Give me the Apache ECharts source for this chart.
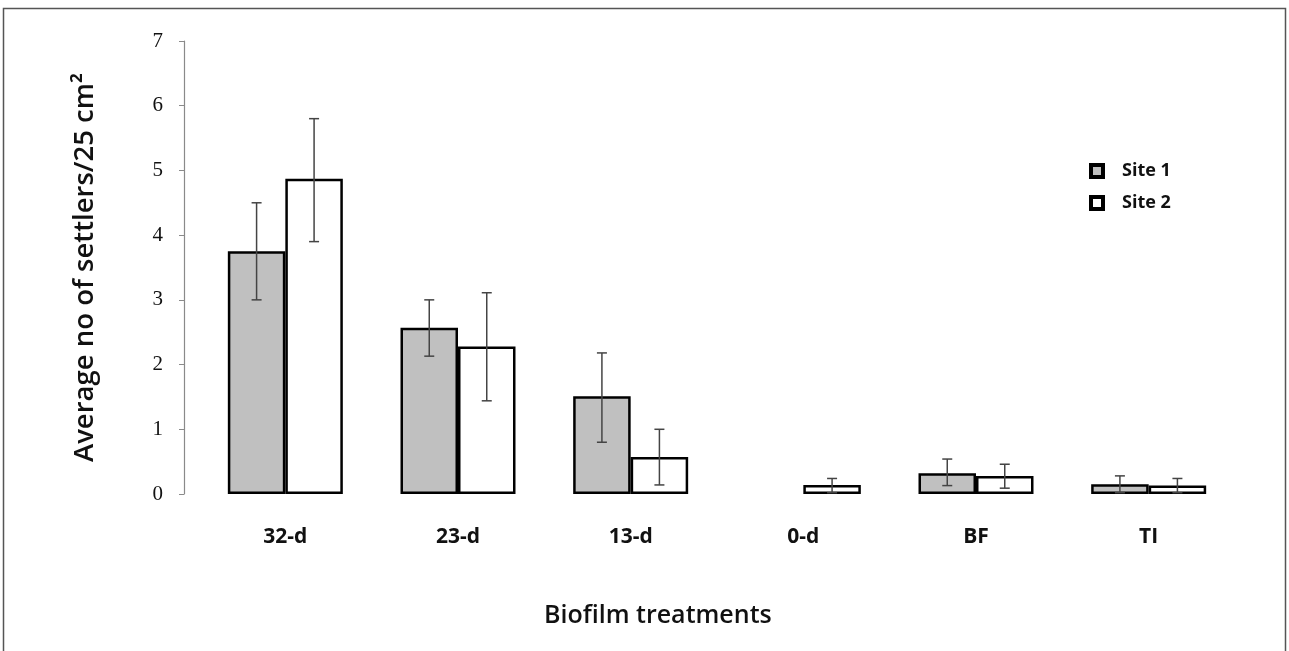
<!DOCTYPE html>
<html>
<head>
<meta charset="utf-8">
<style>
  html, body { margin: 0; padding: 0; background: #fff; }
  #chart { width: 1289px; height: 651px; }
</style>
<script src="https://cdn.jsdelivr.net/npm/echarts@6/dist/echarts.min.js"></script>
</head>
<body>
<div id="chart"></div>
<script>
var categories = ['32-d', '23-d', '13-d', '0-d', 'BF', 'TI'];
var yTicks = [0, 1, 2, 3, 4, 5, 6, 7];

// mean values ('-' = no bar)
var site1 = [3.75, 2.57, 1.51, '-', 0.32, 0.15];
var site2 = [4.87, 2.28, 0.57, 0.14, 0.28, 0.13];

// error bar ends [low, high]
var site1Low  = [3.00, 2.13, 0.80, null, 0.13, 0.02];
var site1High = [4.50, 3.00, 2.18, null, 0.54, 0.28];
var site2Low  = [3.90, 1.44, 0.14, 0.02, 0.09, 0.02];
var site2High = [5.80, 3.11, 1.00, 0.24, 0.46, 0.24];

var gapPct = 0.334;

function errData(low, high) {
    var out = [];
    for (var i = 0; i < low.length; i++) {
        if (low[i] == null) continue;
        out.push([i, low[i], high[i]]);
    }
    return out;
}

function errRenderer(side) {
    return function (params, api) {
        var band = api.size([1, 0])[0];
        var bw = band * (1 - gapPct) / 2;
        var lo = api.coord([api.value(0), api.value(1)]);
        var hi = api.coord([api.value(0), api.value(2)]);
        var x = lo[0] + side * bw / 2;
        var cap = 5;
        var style = { stroke: '#444', lineWidth: 1.5 };
        return {
            type: 'group',
            children: [
                { type: 'line', shape: { x1: x, y1: lo[1], x2: x, y2: hi[1] }, style: style },
                { type: 'line', shape: { x1: x - cap, y1: hi[1], x2: x + cap, y2: hi[1] }, style: style },
                { type: 'line', shape: { x1: x - cap, y1: lo[1], x2: x + cap, y2: lo[1] }, style: style }
            ]
        };
    };
}

var barStyle = function (fill) {
    return { color: fill, borderColor: '#000', borderWidth: 2.5 };
};

var opts = {
    animation: false,
    backgroundColor: '#fff',
    grid: { left: 199, right: 54, top: 41, bottom: 157, containLabel: false },
    legend: {
        orient: 'vertical',
        left: 1084,
        top: 157,
        itemWidth: 12,
        itemHeight: 12,
        itemGap: 14,
        icon: 'rect',
        data: ['Site 1', 'Site 2'],
        itemStyle: { borderWidth: 4, borderColor: '#000' },
        textStyle: { fontFamily: 'Open Sans', fontWeight: 'bold', fontSize: 18, color: '#111', padding: [0, 0, 0, 14] }
    },
    xAxis: {
        type: 'category',
        data: categories,
        axisLine: { show: false },
        axisTick: { show: false },
        axisLabel: { margin: 33, fontFamily: 'Open Sans', fontWeight: 'bold', fontSize: 21, color: '#111' }
    },
    yAxis: {
        type: 'value',
        min: yTicks[0],
        max: yTicks[yTicks.length - 1],
        interval: 1,
        offset: 15,
        axisLine: { show: true, lineStyle: { color: '#8a8a8a', width: 1.2 } },
        axisTick: { show: true, inside: false, length: 5, lineStyle: { color: '#8a8a8a' } },
        splitLine: { show: false },
        axisLabel: { margin: 21, fontFamily: 'Liberation Serif', fontSize: 21, color: '#111' },
        name: 'Average no of settlers/25 cm²',
        nameLocation: 'middle',
        nameGap: 85,
        nameTextStyle: { fontFamily: 'Open Sans', fontWeight: 600, fontSize: 27.5, color: '#111' }
    },
    graphic: [
        {
            type: 'rect',
            shape: { x: 3.5, y: 8.5, width: 1282, height: 700 },
            style: { fill: 'none', stroke: '#555', lineWidth: 1.5 },
            silent: true
        },
        {
            type: 'text',
            left: 544,
            top: 603,
            style: { text: 'Biofilm treatments', fontFamily: 'Open Sans', fontWeight: 600, fontSize: 25, fill: '#111' }
        }
    ],
    series: [
        {
            name: 'Site 1',
            type: 'bar',
            data: site1,
            barGap: '0%',
            barCategoryGap: (gapPct * 100) + '%',
            itemStyle: barStyle('#c0c0c0')
        },
        {
            name: 'Site 2',
            type: 'bar',
            data: site2,
            barGap: '0%',
            barCategoryGap: (gapPct * 100) + '%',
            itemStyle: barStyle('#ffffff')
        },
        {
            type: 'custom',
            renderItem: errRenderer(-1),
            data: errData(site1Low, site1High),
            encode: { x: 0, y: [1, 2] },
            z: 10
        },
        {
            type: 'custom',
            renderItem: errRenderer(1),
            data: errData(site2Low, site2High),
            encode: { x: 0, y: [1, 2] },
            z: 10
        }
    ]
};

echarts.init(document.getElementById('chart')).setOption(opts);
</script>
</body>
</html>
